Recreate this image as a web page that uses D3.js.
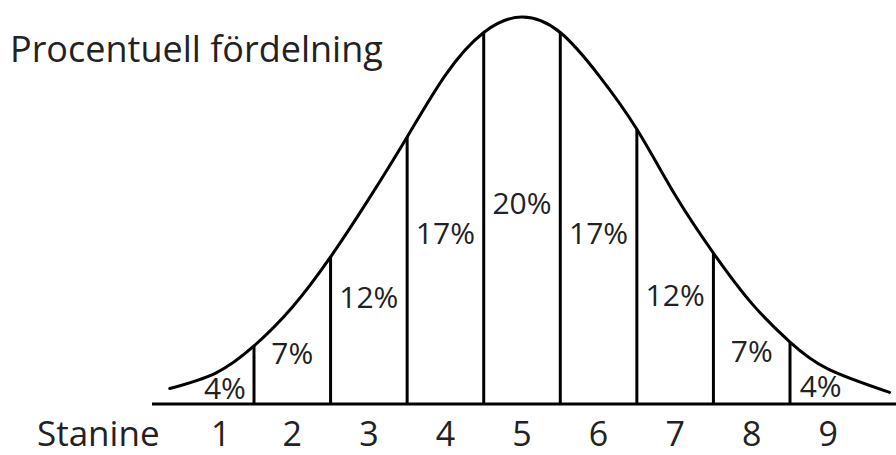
<!DOCTYPE html>
<html>
<head>
<meta charset="utf-8">
<script src="https://cdn.jsdelivr.net/npm/d3@7"></script>
<style>
  html, body { margin: 0; padding: 0; background: #fff; }
  svg { display: block; }
  text { font-family: "Open Sans", "DejaVu Sans", sans-serif; fill: #222; }
</style>
</head>
<body>
<svg id="chart" width="896" height="455"></svg>
<script>
// ---- data ----
const title = "Procentuell fördelning";
const axisLabel = "Stanine";
const stanines = [1, 2, 3, 4, 5, 6, 7, 8, 9];
const percents = [4, 7, 12, 17, 20, 17, 12, 7, 4];
// stanine boundaries in standard-deviation units
const boundaries = [-1.75, -1.25, -0.75, -0.25, 0.25, 0.75, 1.25, 1.75];
const binCenters = [-2, -1.5, -1, -0.5, 0, 0.5, 1, 1.5, 2];
// curve: z (sd units) and relative height
const curveZ = [-2.3, -2.0, -1.75, -1.5, -1.25, -1.0, -0.75, -0.5, -0.25, 0, 0.25, 0.5, 0.75, 1.0, 1.25, 1.5, 1.75, 2.0, 2.4];
const curveH = [0.04, 0.08, 0.15, 0.25, 0.38, 0.53, 0.69, 0.85, 0.96, 1.0, 0.96, 0.85, 0.71, 0.54, 0.39, 0.26, 0.16, 0.09, 0.03];

// ---- drawing ----
const svg = d3.select("#chart");
const x = d3.scaleLinear().domain([-1.75, 1.75]).range([254, 790]);
const y = d3.scaleLinear().domain([0, 1]).range([404, 17]);
const curvePts = curveZ.map((z, i) => [z, curveH[i]]);
const hAt = z => curveH[curveZ.findIndex(v => Math.abs(v - z) < 1e-9)];

// baseline
svg.append("line")
  .attr("x1", 152).attr("x2", 896)
  .attr("y1", y(0)).attr("y2", y(0))
  .attr("stroke", "#000").attr("stroke-width", 3);

// vertical boundary lines
svg.selectAll("line.bound").data(boundaries).join("line")
  .attr("class", "bound")
  .attr("x1", d => x(d)).attr("x2", d => x(d))
  .attr("y1", y(0)).attr("y2", d => y(hAt(d)))
  .attr("stroke", "#000").attr("stroke-width", 3);

// curve
const line = d3.line()
  .x(d => x(d[0])).y(d => y(d[1]))
  .curve(d3.curveNatural);
svg.append("path")
  .attr("d", line(curvePts))
  .attr("fill", "none").attr("stroke", "#000").attr("stroke-width", 3)
  .attr("stroke-linecap", "round");

// percent labels
svg.selectAll("text.pct").data(percents).join("text")
  .attr("class", "pct")
  .attr("x", (d, i) => {
    let c = binCenters[i];
    if (i === 0) c = -1.94;
    if (i === percents.length - 1) c = 1.95;
    return x(c);
  })
  .attr("y", (d, i) => y(hAt(binCenters[i]) * 0.52))
  .attr("dy", "0.36em")
  .attr("text-anchor", "middle")
  .attr("font-size", 30)
  .text(d => d + "%");

// stanine numbers
svg.selectAll("text.st").data(stanines).join("text")
  .attr("class", "st")
  .attr("x", (d, i) => x(binCenters[i]) + (i === 0 ? 5 : 0))
  .attr("y", 446)
  .attr("text-anchor", "middle")
  .attr("font-size", 34)
  .text(d => d);

svg.append("text")
  .attr("x", 37).attr("y", 446)
  .attr("font-size", 35)
  .text(axisLabel);

svg.append("text")
  .attr("x", 10).attr("y", 62)
  .attr("font-size", 36)
  .text(title);
</script>
</body>
</html>
